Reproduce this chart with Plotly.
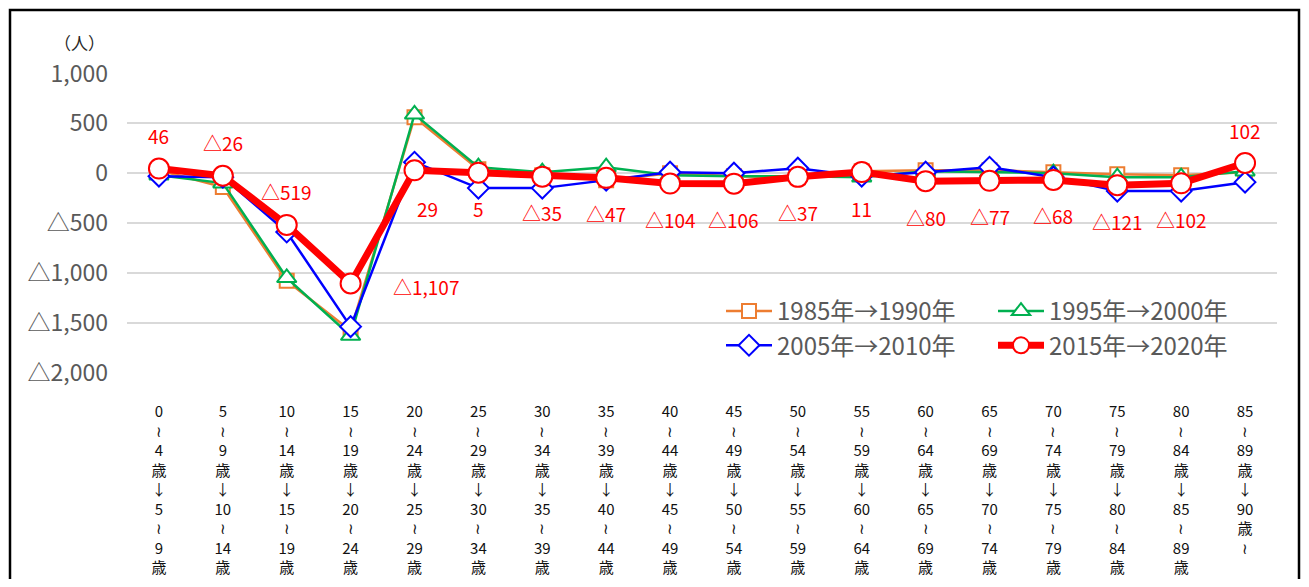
import re
import plotly.graph_objects as go

# age cohort transitions (x categories)
age_groups = [
    "0~4歳→5~9歳", "5~9歳→10~14歳", "10~14歳→15~19歳", "15~19歳→20~24歳",
    "20~24歳→25~29歳", "25~29歳→30~34歳", "30~34歳→35~39歳", "35~39歳→40~44歳",
    "40~44歳→45~49歳", "45~49歳→50~54歳", "50~54歳→55~59歳", "55~59歳→60~64歳",
    "60~64歳→65~69歳", "65~69歳→70~74歳", "70~74歳→75~79歳", "75~79歳→80~84歳",
    "80~84歳→85~89歳", "85~89歳→90歳~",
]

# net migration by cohort (persons)
y_1985_1990 = [30, -140, -1080, -1580, 560, 40, -20, -70, 0, -30, -40, 20, 30, 30, 10, -10, -20, 10]
y_1995_2000 = [-20, -100, -1050, -1630, 590, 60, 10, 60, -20, -30, -30, -40, 20, 10, 0, -40, -40, 20]
y_2005_2010 = [-30, -40, -590, -1540, 110, -150, -150, -70, 10, 0, 50, -30, 10, 60, -40, -180, -180, -90]
y_2015_2020 = [46, -26, -519, -1107, 29, 5, -35, -47, -104, -106, -37, 11, -80, -77, -68, -121, -102, 102]

y_tick_vals = [1000, 500, 0, -500, -1000, -1500, -2000]
y_tick_text = ["1,000", "500", "0", "△500", "△1,000", "△1,500", "△2,000"]

# where each 2015→2020 label sits relative to its point
label_side = ["above", "above", "above", "right", "below_right", "below", "below", "below",
              "below", "below", "below", "below", "below", "below", "below", "below",
              "below", "above"]

FONT = "Noto Sans CJK JP, sans-serif"
GREY = "#595959"

# the page body keeps an 8px margin all round; size the figure so nothing overflows
OFF = 8
PAGE_W, PAGE_H = 1309, 587
FIG_W, FIG_H = PAGE_W - 2 * OFF, PAGE_H - 2 * OFF
PX_L, PX_R, PX_T, PX_B = 127, 1277, 73, 373   # plot area in page pixels


def px(xp):
    return (xp - PX_L) / (PX_R - PX_L)


def py(yp):
    return (PX_B - yp) / (PX_B - PX_T)


def vertical(label):
    parts = re.findall(r"\d+|~|歳|→", label)
    parts = ["≀" if p == "~" else "↓" if p == "→" else p for p in parts]
    return "<br>".join(parts)


def fmt(v):
    return f"△{abs(v):,}" if v < 0 else f"{v:,}"


x = list(range(len(age_groups)))

fig = go.Figure()

series = [
    ("1985年→1990年", y_1985_1990, "#ED7D31", "square", 14, 2.5, "legend"),
    ("1995年→2000年", y_1995_2000, "#00B050", "triangle-up", 17, 2.5, "legend2"),
    ("2005年→2010年", y_2005_2010, "#0000FF", "diamond", 16, 2.5, "legend"),
    ("2015年→2020年", y_2015_2020, "#FF0000", "circle", 20, 7, "legend2"),
]

for name, ys, color, symbol, size, width, leg in series:
    fig.add_trace(go.Scatter(
        x=x,
        y=ys,
        name=name,
        mode="lines+markers",
        line=dict(color=color, width=width),
        marker=dict(symbol=symbol, size=size, color="white",
                    line=dict(color=color, width=2)),
        legend=leg,
    ))

shifts = {
    "above": (0, 33),
    "below": (0, -36),
    "right": (75, -3),
    "below_right": (13, -38),
}
for i, v in enumerate(y_2015_2020):
    dx, dy = shifts[label_side[i]]
    fig.add_annotation(
        x=x[i], y=v, text=fmt(v), showarrow=False,
        xshift=dx, yshift=dy,
        font=dict(family=FONT, size=19, color="#FF0000"),
    )

# unit label
fig.add_annotation(
    xref="paper", yref="paper", x=px(79), y=py(43),
    xanchor="center", yanchor="middle",
    text="（人）", showarrow=False,
    font=dict(family=FONT, size=17, color="#262626"),
)

# outer frame (open at the bottom, like the cropped original)
fig.add_shape(
    type="rect", xref="paper", yref="paper",
    x0=px(10), x1=px(1299),
    y0=py(640), y1=py(10),
    line=dict(color="black", width=2.5),
)

fig.update_layout(
    width=FIG_W,
    height=FIG_H,
    margin=dict(l=PX_L - OFF, r=FIG_W + OFF - PX_R, t=PX_T - OFF, b=FIG_H + OFF - PX_B),
    paper_bgcolor="white",
    plot_bgcolor="white",
    font=dict(family=FONT, color=GREY),
    xaxis=dict(
        tickmode="array",
        tickvals=x,
        ticktext=[vertical(a) for a in age_groups],
        range=[-0.5, len(age_groups) - 0.5],
        showgrid=False,
        showline=False,
        zeroline=False,
        ticks="",
        tickangle=0,
        automargin=False,
        ticklabelstandoff=28,
        tickfont=dict(family=FONT, size=15, color="#111111"),
    ),
    yaxis=dict(
        range=[-2005, 1005],
        tickmode="array",
        tickvals=y_tick_vals,
        ticktext=y_tick_text,
        showgrid=True,
        gridcolor="#D9D9D9",
        gridwidth=1.5,
        zeroline=False,
        showline=False,
        ticks="",
        automargin=False,
        ticklabelstandoff=18,
        tickfont=dict(family=FONT, size=23, color=GREY),
    ),
    legend=dict(
        x=px(721), y=py(289),
        xanchor="left", yanchor="top",
        orientation="v",
        bgcolor="rgba(0,0,0,0)",
        font=dict(family=FONT, size=24, color=GREY),
        itemwidth=46,
    ),
    legend2=dict(
        x=px(993), y=py(289),
        xanchor="left", yanchor="top",
        orientation="v",
        bgcolor="rgba(0,0,0,0)",
        font=dict(family=FONT, size=24, color=GREY),
        itemwidth=46,
    ),
    showlegend=True,
)

fig.write_html("out.html")
